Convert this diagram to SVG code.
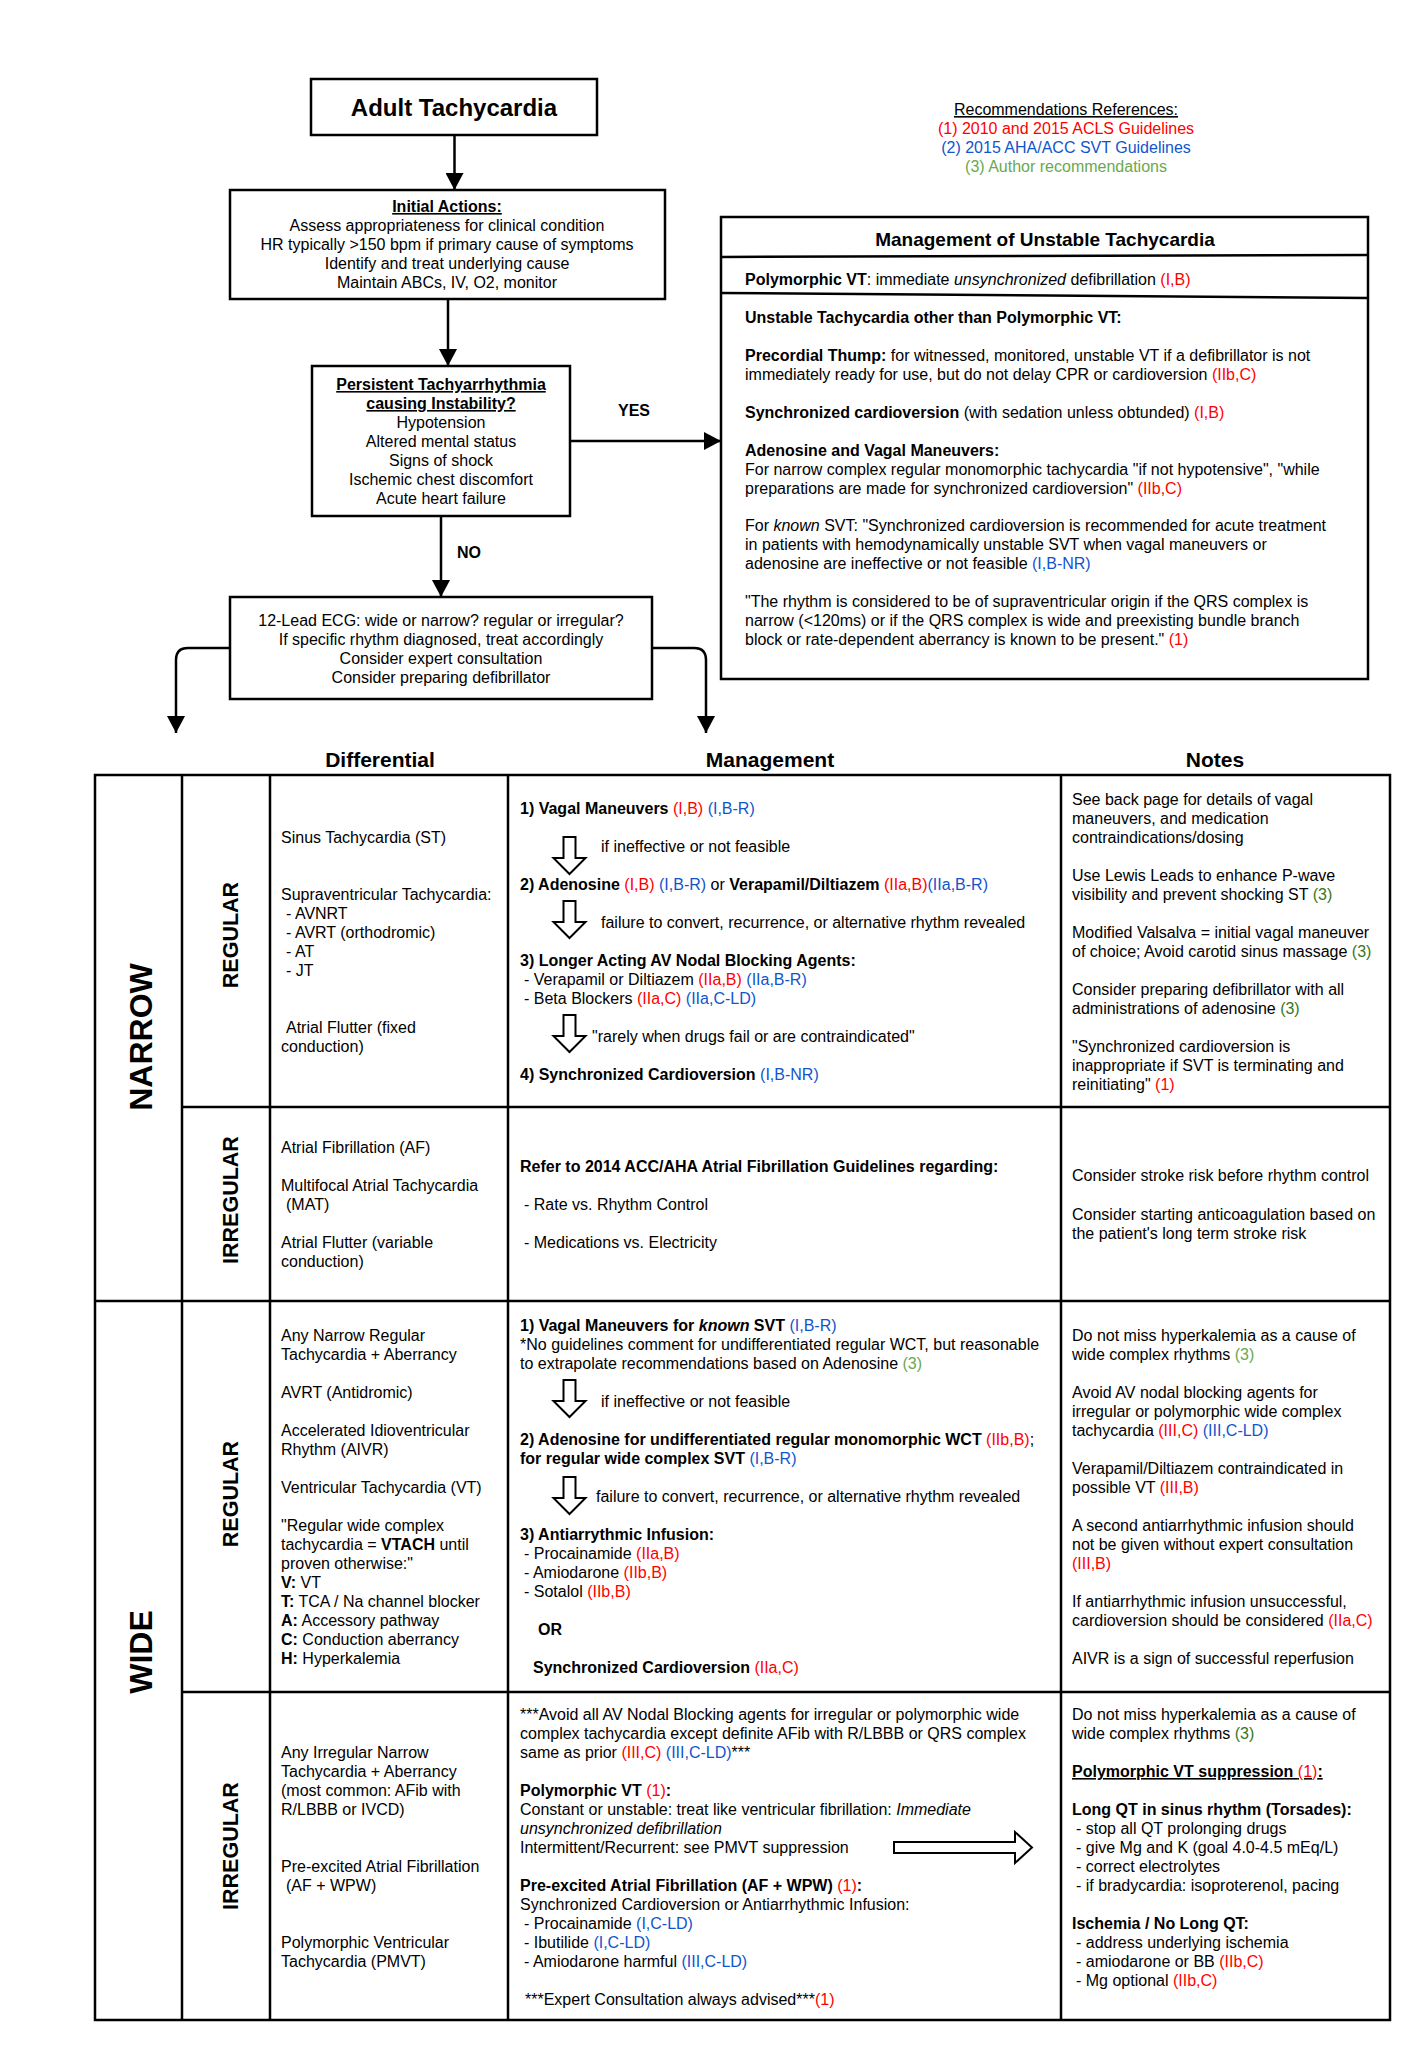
<svg xmlns="http://www.w3.org/2000/svg" width="1428" height="2048" viewBox="0 0 1428 2048">
<style>
text{font-family:"Liberation Sans",Arial,sans-serif;font-size:16px;fill:#000}
.b{font-weight:bold}
.i{font-style:italic}
.r{fill:#ff0000}
.bl{fill:#1155cc}
.g{fill:#6aa84f}
.dg{fill:#38761d}
.u{text-decoration:underline}
.c{text-anchor:middle}
.h{font-size:21px;font-weight:bold}
.big{font-size:32px;font-weight:bold}
.rot{font-size:21.5px;font-weight:bold}
.box{fill:#fff;stroke:#000;stroke-width:2.5}
.grid{stroke:#000;stroke-width:2.5;fill:none}
.conn{stroke:#000;stroke-width:2.5;fill:none;marker-end:url(#ah)}
.hollow{fill:#fff;stroke:#000;stroke-width:2}
</style>
<defs>
<marker id="ah" markerUnits="userSpaceOnUse" viewBox="0 0 18 18" markerWidth="18" markerHeight="18" refX="17" refY="9" orient="auto"><path d="M0,0 L17,9 L0,18 Z" fill="#000"/></marker>
<path id="hdown" d="M-6,0 H6 V21 H16 L0,37 L-16,21 H-6 Z"/>
</defs>
<rect width="1428" height="2048" fill="#fff"/>

<g id="title">
<rect class="box" x="311" y="79" width="286" height="56"/>
<text class="c b" x="454" y="116" style="font-size:24px">Adult Tachycardia</text>
</g>

<g id="references">
<text class="c u" x="1066" y="115">Recommendations References:</text>
<text class="c r" x="1066" y="134">(1) 2010 and 2015 ACLS Guidelines</text>
<text class="c bl" x="1066" y="153">(2) 2015 AHA/ACC SVT Guidelines</text>
<text class="c g" x="1066" y="172">(3) Author recommendations</text>
</g>

<g id="initial-actions">
<rect class="box" x="230" y="190" width="435" height="109"/>
<text class="c b u" x="447" y="212">Initial Actions:</text>
<text class="c" x="447" y="231">Assess appropriateness for clinical condition</text>
<text class="c" x="447" y="250">HR typically &gt;150 bpm if primary cause of symptoms</text>
<text class="c" x="447" y="269">Identify and treat underlying cause</text>
<text class="c" x="447" y="288">Maintain ABCs, IV, O2, monitor</text>
</g>

<g id="persistent">
<rect class="box" x="312" y="366" width="258" height="150"/>
<text class="c b u" x="441" y="390">Persistent Tachyarrhythmia</text>
<text class="c b u" x="441" y="409">causing Instability?</text>
<text class="c" x="441" y="428">Hypotension</text>
<text class="c" x="441" y="447">Altered mental status</text>
<text class="c" x="441" y="466">Signs of shock</text>
<text class="c" x="441" y="485">Ischemic chest discomfort</text>
<text class="c" x="441" y="504">Acute heart failure</text>
</g>

<g id="ecg">
<rect class="box" x="230" y="597" width="422" height="102"/>
<text class="c" x="441" y="626">12-Lead ECG: wide or narrow? regular or irregular?</text>
<text class="c" x="441" y="645">If specific rhythm diagnosed, treat accordingly</text>
<text class="c" x="441" y="664">Consider expert consultation</text>
<text class="c" x="441" y="683">Consider preparing defibrillator</text>
</g>

<g id="unstable-management">
<rect class="box" x="721" y="217" width="647" height="462"/>
<path class="grid" d="M721,257 L1368,255 M721,293 L1368,298"/>
<text class="c b" x="1045" y="246" style="font-size:19px">Management of Unstable Tachycardia</text>
<text x="745" y="285"><tspan class="b">Polymorphic VT</tspan>: immediate <tspan class="i">unsynchronized</tspan> defibrillation <tspan class="r">(I,B)</tspan></text>
<text class="b" x="745" y="323">Unstable Tachycardia other than Polymorphic VT:</text>
<text x="745" y="361"><tspan class="b">Precordial Thump:</tspan> for witnessed, monitored, unstable VT if a defibrillator is not</text>
<text x="745" y="380">immediately ready for use, but do not delay CPR or cardioversion <tspan class="r">(IIb,C)</tspan></text>
<text x="745" y="418"><tspan class="b">Synchronized cardioversion</tspan> (with sedation unless obtunded) <tspan class="r">(I,B)</tspan></text>
<text class="b" x="745" y="456">Adenosine and Vagal Maneuvers:</text>
<text x="745" y="475">For narrow complex regular monomorphic tachycardia "if not hypotensive", "while</text>
<text x="745" y="494">preparations are made for synchronized cardioversion" <tspan class="r">(IIb,C)</tspan></text>
<text x="745" y="531">For <tspan class="i">known</tspan> SVT: "Synchronized cardioversion is recommended for acute treatment</text>
<text x="745" y="550">in patients with hemodynamically unstable SVT when vagal maneuvers or</text>
<text x="745" y="569">adenosine are ineffective or not feasible <tspan class="bl">(I,B-NR)</tspan></text>
<text x="745" y="607">"The rhythm is considered to be of supraventricular origin if the QRS complex is</text>
<text x="745" y="626">narrow (&lt;120ms) or if the QRS complex is wide and preexisting bundle branch</text>
<text x="745" y="645">block or rate-dependent aberrancy is known to be present." <tspan class="r">(1)</tspan></text>
</g>

<g id="connectors">
<path class="conn" d="M454.5,135 V190"/>
<path class="conn" d="M448,299 V366"/>
<path class="conn" d="M570,441 H721"/>
<path class="conn" d="M441,516 V597"/>
<path class="conn" d="M230,648 H188 Q176,648 176,660 V733"/>
<path class="conn" d="M652,648 H694 Q706,648 706,660 V733"/>
<text class="b c" x="634" y="416">YES</text>
<text class="b c" x="469" y="558">NO</text>
<use href="#hdown" class="hollow" x="569.5" y="837"/>
<use href="#hdown" class="hollow" x="569.5" y="901"/>
<use href="#hdown" class="hollow" x="569.5" y="1015"/>
<use href="#hdown" class="hollow" x="569.5" y="1380"/>
<use href="#hdown" class="hollow" x="569.5" y="1477"/>
<path class="hollow" d="M894,1842 H1015 V1832 L1032,1847.5 L1015,1863 V1853 H894 Z"/>
</g>

<g id="table">
<text class="h c" x="380" y="767">Differential</text>
<text class="h c" x="770" y="767">Management</text>
<text class="h c" x="1215" y="767">Notes</text>
<rect class="grid" x="95" y="775" width="1295" height="1245"/>
<path class="grid" d="M182,775 V2020 M270,775 V2020 M508,775 V2020 M1061,775 V2020 M95,1301 H1390 M182,1107 H1390 M182,1692 H1390"/>
<text class="big c" transform="translate(152,1037) rotate(-90)">NARROW</text>
<text class="big c" transform="translate(152,1652) rotate(-90)">WIDE</text>
<text class="rot c" transform="translate(238,935) rotate(-90)">REGULAR</text>
<text class="rot c" transform="translate(238,1200) rotate(-90)">IRREGULAR</text>
<text class="rot c" transform="translate(238,1494) rotate(-90)">REGULAR</text>
<text class="rot c" transform="translate(238,1846) rotate(-90)">IRREGULAR</text>
</g>

<g id="narrow-regular-differential">
<text x="281" y="843">Sinus Tachycardia (ST)</text>
<text x="281" y="900">Supraventricular Tachycardia:</text>
<text x="286" y="919">- AVNRT</text>
<text x="286" y="938">- AVRT (orthodromic)</text>
<text x="286" y="957">- AT</text>
<text x="286" y="976">- JT</text>
<text x="286" y="1033">Atrial Flutter (fixed</text>
<text x="281" y="1052">conduction)</text>
</g>

<g id="narrow-regular-management">
<text x="520" y="814"><tspan class="b">1) Vagal Maneuvers </tspan><tspan class="r">(I,B)</tspan> <tspan class="bl">(I,B-R)</tspan></text>
<text x="601" y="852">if ineffective or not feasible</text>
<text x="520" y="890"><tspan class="b">2) Adenosine </tspan><tspan class="r">(I,B)</tspan> <tspan class="bl">(I,B-R)</tspan> or <tspan class="b">Verapamil/Diltiazem </tspan><tspan class="r">(IIa,B)</tspan><tspan class="bl">(IIa,B-R)</tspan></text>
<text x="601" y="928">failure to convert, recurrence, or alternative rhythm revealed</text>
<text class="b" x="520" y="966">3) Longer Acting AV Nodal Blocking Agents:</text>
<text x="524" y="985">- Verapamil or Diltiazem <tspan class="r">(IIa,B)</tspan> <tspan class="bl">(IIa,B-R)</tspan></text>
<text x="524" y="1004">- Beta Blockers <tspan class="r">(IIa,C)</tspan> <tspan class="bl">(IIa,C-LD)</tspan></text>
<text x="592" y="1042">"rarely when drugs fail or are contraindicated"</text>
<text x="520" y="1080"><tspan class="b">4) Synchronized Cardioversion </tspan><tspan class="bl">(I,B-NR)</tspan></text>
</g>

<g id="narrow-regular-notes">
<text x="1072" y="805">See back page for details of vagal</text>
<text x="1072" y="824">maneuvers, and medication</text>
<text x="1072" y="843">contraindications/dosing</text>
<text x="1072" y="881">Use Lewis Leads to enhance P-wave</text>
<text x="1072" y="900">visibility and prevent shocking ST <tspan class="dg">(3)</tspan></text>
<text x="1072" y="938">Modified Valsalva = initial vagal maneuver</text>
<text x="1072" y="957">of choice; Avoid carotid sinus massage <tspan class="dg">(3)</tspan></text>
<text x="1072" y="995">Consider preparing defibrillator with all</text>
<text x="1072" y="1014">administrations of adenosine <tspan class="dg">(3)</tspan></text>
<text x="1072" y="1052">"Synchronized cardioversion is</text>
<text x="1072" y="1071">inappropriate if SVT is terminating and</text>
<text x="1072" y="1090">reinitiating" <tspan class="r">(1)</tspan></text>
</g>

<g id="narrow-irregular-differential">
<text x="281" y="1153">Atrial Fibrillation (AF)</text>
<text x="281" y="1191">Multifocal Atrial Tachycardia</text>
<text x="286" y="1210">(MAT)</text>
<text x="281" y="1248">Atrial Flutter (variable</text>
<text x="281" y="1267">conduction)</text>
</g>

<g id="narrow-irregular-management">
<text class="b" x="520" y="1172">Refer to 2014 ACC/AHA Atrial Fibrillation Guidelines regarding:</text>
<text x="524" y="1210">- Rate vs. Rhythm Control</text>
<text x="524" y="1248">- Medications vs. Electricity</text>
</g>

<g id="narrow-irregular-notes">
<text x="1072" y="1181">Consider stroke risk before rhythm control</text>
<text x="1072" y="1220">Consider starting anticoagulation based on</text>
<text x="1072" y="1239">the patient's long term stroke risk</text>
</g>

<g id="wide-regular-differential">
<text x="281" y="1341">Any Narrow Regular</text>
<text x="281" y="1360">Tachycardia + Aberrancy</text>
<text x="281" y="1398">AVRT (Antidromic)</text>
<text x="281" y="1436">Accelerated Idioventricular</text>
<text x="281" y="1455">Rhythm (AIVR)</text>
<text x="281" y="1493">Ventricular Tachycardia (VT)</text>
<text x="281" y="1531">"Regular wide complex</text>
<text x="281" y="1550">tachycardia = <tspan class="b">VTACH</tspan> until</text>
<text x="281" y="1569">proven otherwise:"</text>
<text x="281" y="1588"><tspan class="b">V:</tspan> VT</text>
<text x="281" y="1607"><tspan class="b">T:</tspan> TCA / Na channel blocker</text>
<text x="281" y="1626"><tspan class="b">A:</tspan> Accessory pathway</text>
<text x="281" y="1645"><tspan class="b">C:</tspan> Conduction aberrancy</text>
<text x="281" y="1664"><tspan class="b">H:</tspan> Hyperkalemia</text>
</g>

<g id="wide-regular-management">
<text x="520" y="1331"><tspan class="b">1) Vagal Maneuvers for </tspan><tspan class="b i">known</tspan><tspan class="b"> SVT </tspan><tspan class="bl">(I,B-R)</tspan></text>
<text x="520" y="1350">*No guidelines comment for undifferentiated regular WCT, but reasonable</text>
<text x="520" y="1369">to extrapolate recommendations based on Adenosine <tspan class="g">(3)</tspan></text>
<text x="601" y="1407">if ineffective or not feasible</text>
<text x="520" y="1445"><tspan class="b">2) Adenosine for undifferentiated regular monomorphic WCT </tspan><tspan class="r">(IIb,B)</tspan>;</text>
<text x="520" y="1464"><tspan class="b">for regular wide complex SVT </tspan><tspan class="bl">(I,B-R)</tspan></text>
<text x="596" y="1502">failure to convert, recurrence, or alternative rhythm revealed</text>
<text class="b" x="520" y="1540">3) Antiarrythmic Infusion:</text>
<text x="524" y="1559">- Procainamide <tspan class="r">(IIa,B)</tspan></text>
<text x="524" y="1578">- Amiodarone <tspan class="r">(IIb,B)</tspan></text>
<text x="524" y="1597">- Sotalol <tspan class="r">(IIb,B)</tspan></text>
<text class="b" x="538" y="1635">OR</text>
<text x="533" y="1673"><tspan class="b">Synchronized Cardioversion </tspan><tspan class="r">(IIa,C)</tspan></text>
</g>

<g id="wide-regular-notes">
<text x="1072" y="1341">Do not miss hyperkalemia as a cause of</text>
<text x="1072" y="1360">wide complex rhythms <tspan class="g">(3)</tspan></text>
<text x="1072" y="1398">Avoid AV nodal blocking agents for</text>
<text x="1072" y="1417">irregular or polymorphic wide complex</text>
<text x="1072" y="1436">tachycardia <tspan class="r">(III,C)</tspan> <tspan class="bl">(III,C-LD)</tspan></text>
<text x="1072" y="1474">Verapamil/Diltiazem contraindicated in</text>
<text x="1072" y="1493">possible VT <tspan class="r">(III,B)</tspan></text>
<text x="1072" y="1531">A second antiarrhythmic infusion should</text>
<text x="1072" y="1550">not be given without expert consultation</text>
<text class="r" x="1072" y="1569">(III,B)</text>
<text x="1072" y="1607">If antiarrhythmic infusion unsuccessful,</text>
<text x="1072" y="1626">cardioversion should be considered <tspan class="r">(IIa,C)</tspan></text>
<text x="1072" y="1664">AIVR is a sign of successful reperfusion</text>
</g>

<g id="wide-irregular-differential">
<text x="281" y="1758">Any Irregular Narrow</text>
<text x="281" y="1777">Tachycardia + Aberrancy</text>
<text x="281" y="1796">(most common: AFib with</text>
<text x="281" y="1815">R/LBBB or IVCD)</text>
<text x="281" y="1872">Pre-excited Atrial Fibrillation</text>
<text x="286" y="1891">(AF + WPW)</text>
<text x="281" y="1948">Polymorphic Ventricular</text>
<text x="281" y="1967">Tachycardia (PMVT)</text>
</g>

<g id="wide-irregular-management">
<text x="520" y="1720">***Avoid all AV Nodal Blocking agents for irregular or polymorphic wide</text>
<text x="520" y="1739">complex tachycardia except definite AFib with R/LBBB or QRS complex</text>
<text x="520" y="1758">same as prior <tspan class="r">(III,C)</tspan> <tspan class="bl">(III,C-LD)</tspan>***</text>
<text x="520" y="1796"><tspan class="b">Polymorphic VT </tspan><tspan class="r">(1)</tspan><tspan class="b">:</tspan></text>
<text x="520" y="1815">Constant or unstable: treat like ventricular fibrillation: <tspan class="i">Immediate</tspan></text>
<text class="i" x="520" y="1834">unsynchronized defibrillation</text>
<text x="520" y="1853">Intermittent/Recurrent: see PMVT suppression</text>
<text x="520" y="1891"><tspan class="b">Pre-excited Atrial Fibrillation (AF + WPW) </tspan><tspan class="r">(1)</tspan><tspan class="b">:</tspan></text>
<text x="520" y="1910">Synchronized Cardioversion or Antiarrhythmic Infusion:</text>
<text x="524" y="1929">- Procainamide <tspan class="bl">(I,C-LD)</tspan></text>
<text x="524" y="1948">- Ibutilide <tspan class="bl">(I,C-LD)</tspan></text>
<text x="524" y="1967">- Amiodarone harmful <tspan class="bl">(III,C-LD)</tspan></text>
<text x="525" y="2005">***Expert Consultation always advised***<tspan class="r">(1)</tspan></text>
</g>

<g id="wide-irregular-notes">
<text x="1072" y="1720">Do not miss hyperkalemia as a cause of</text>
<text x="1072" y="1739">wide complex rhythms <tspan class="dg">(3)</tspan></text>
<text class="b u" x="1072" y="1777">Polymorphic VT suppression <tspan class="r" style="font-weight:normal">(1)</tspan>:</text>
<text class="b" x="1072" y="1815">Long QT in sinus rhythm (Torsades):</text>
<text x="1076" y="1834">- stop all QT prolonging drugs</text>
<text x="1076" y="1853">- give Mg and K (goal 4.0-4.5 mEq/L)</text>
<text x="1076" y="1872">- correct electrolytes</text>
<text x="1076" y="1891">- if bradycardia: isoproterenol, pacing</text>
<text class="b" x="1072" y="1929">Ischemia / No Long QT:</text>
<text x="1076" y="1948">- address underlying ischemia</text>
<text x="1076" y="1967">- amiodarone or BB <tspan class="r">(IIb,C)</tspan></text>
<text x="1076" y="1986">- Mg optional <tspan class="r">(IIb,C)</tspan></text>
</g>
</svg>
